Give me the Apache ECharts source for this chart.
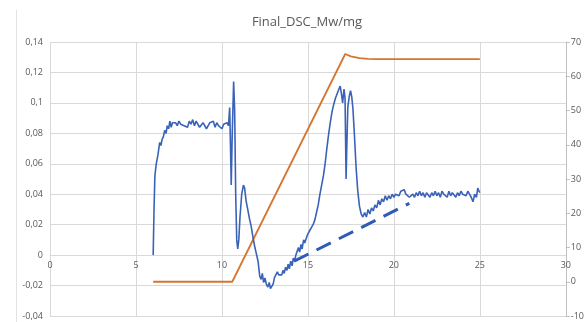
<!DOCTYPE html>
<html><head><meta charset="utf-8">
<script src="https://cdn.jsdelivr.net/npm/echarts@6/dist/echarts.min.js"></script>
<style>html,body{margin:0;padding:0;background:#fff}#c{width:587px;height:322px}</style>
</head><body><div id="c"></div>
<script>
var titleText = "Final_DSC_Mw/mg";
var xTicks = [0, 5, 10, 15, 20, 25, 30];
var leftTicks = [-0.04, -0.02, 0, 0.02, 0.04, 0.06, 0.08, 0.1, 0.12, 0.14];
var rightTicks = [-10, 0, 10, 20, 30, 40, 50, 60, 70];

// DSC signal (left axis): time, value
var dscTime = [6.00,6.05,6.10,6.18,6.28,6.38,6.45,6.52,6.60,6.67,6.75,6.82,6.90,6.97,7.05,7.12,7.20,7.30,7.40,7.50,7.60,7.70,7.80,7.90,8.00,8.10,8.20,8.30,8.40,8.50,8.60,8.70,8.80,8.90,9.00,9.10,9.20,9.30,9.40,9.50,9.60,9.70,9.80,9.90,10.00,10.10,10.20,10.30,10.38,10.45,10.50,10.54,10.60,10.68,10.74,10.80,10.86,10.92,10.98,11.05,11.15,11.25,11.32,11.40,11.50,11.60,11.70,11.80,11.90,12.00,12.10,12.20,12.28,12.35,12.42,12.50,12.58,12.67,12.75,12.82,12.90,12.98,13.05,13.15,13.22,13.30,13.40,13.48,13.55,13.62,13.70,13.78,13.85,13.92,14.00,14.08,14.15,14.22,14.30,14.40,14.45,14.52,14.60,14.66,14.75,14.82,14.90,15.00,15.10,15.20,15.30,15.40,15.50,15.60,15.70,15.80,15.90,16.00,16.10,16.20,16.30,16.40,16.50,16.60,16.70,16.80,16.88,16.95,17.02,17.10,17.16,17.22,17.26,17.32,17.40,17.48,17.55,17.62,17.70,17.80,17.90,18.00,18.10,18.20,18.30,18.40,18.50,18.60,18.70,18.80,18.90,19.00,19.10,19.20,19.30,19.40,19.50,19.60,19.70,19.80,19.90,20.00,20.10,20.20,20.30,20.40,20.50,20.60,20.70,20.80,20.90,21.00,21.10,21.20,21.30,21.40,21.50,21.60,21.70,21.80,21.90,22.00,22.10,22.20,22.30,22.40,22.50,22.60,22.70,22.80,22.90,23.00,23.10,23.20,23.30,23.40,23.50,23.60,23.70,23.80,23.90,24.00,24.10,24.20,24.30,24.40,24.50,24.60,24.70,24.80,24.88,24.95,25.00];
var dscValue = [0.000,0.030,0.052,0.060,0.066,0.074,0.072,0.076,0.078,0.082,0.080,0.085,0.083,0.088,0.084,0.087,0.086,0.087,0.085,0.088,0.086,0.087,0.085,0.086,0.084,0.088,0.086,0.089,0.085,0.088,0.087,0.084,0.083,0.087,0.086,0.083,0.085,0.087,0.086,0.088,0.084,0.087,0.085,0.086,0.083,0.086,0.085,0.087,0.085,0.097,0.070,0.046,0.080,0.114,0.095,0.040,0.010,0.004,0.010,0.025,0.040,0.046,0.044,0.036,0.030,0.024,0.019,0.012,0.006,0.001,-0.004,-0.014,-0.016,-0.012,-0.018,-0.015,-0.019,-0.021,-0.018,-0.022,-0.022,-0.019,-0.015,-0.014,-0.011,-0.013,-0.012,-0.013,-0.010,-0.012,-0.008,-0.010,-0.006,-0.009,-0.004,-0.007,-0.002,-0.004,0.000,0.001,0.005,0.002,0.007,0.004,0.010,0.008,0.011,0.014,0.016,0.018,0.020,0.023,0.028,0.033,0.040,0.046,0.052,0.060,0.070,0.079,0.087,0.094,0.099,0.103,0.106,0.109,0.111,0.106,0.100,0.109,0.103,0.050,0.070,0.097,0.104,0.108,0.104,0.096,0.080,0.058,0.042,0.032,0.027,0.025,0.028,0.025,0.030,0.027,0.031,0.029,0.033,0.031,0.036,0.033,0.037,0.035,0.039,0.036,0.039,0.037,0.040,0.038,0.040,0.041,0.039,0.042,0.041,0.043,0.040,0.041,0.038,0.037,0.040,0.038,0.041,0.039,0.042,0.039,0.041,0.038,0.041,0.040,0.038,0.041,0.039,0.042,0.039,0.041,0.038,0.042,0.040,0.041,0.038,0.042,0.039,0.041,0.040,0.038,0.041,0.039,0.042,0.040,0.041,0.039,0.042,0.040,0.038,0.035,0.040,0.038,0.044,0.042,0.041];

// Temperature (right axis)
var tempTime = [6.0, 10.6, 17.17, 17.5, 18.0, 18.5, 19.0, 25.0];
var tempValue = [0, 0, 66.5, 65.8, 65.3, 65.1, 65.0, 65.0];

// Baseline (dashed, left axis)
var baseTime = [14.2, 20.9];
var baseValue = [-0.004, 0.034];

function zip(a, b) { return a.map(function (v, i) { return [v, b[i]]; }); }
function comma(v) { return String(Number(v.toFixed(2))).replace('.', ','); }

var W = 587, H = 322;
var gridTop = 42, gridBottom = 6;
var yMin = leftTicks[0], yMax = leftTicks[leftTicks.length - 1];
var plotH = H - gridTop - gridBottom;
// place the horizontal axis where the left axis crosses zero (as in the original)
var zeroOffset = -plotH * (0 - yMin) / (yMax - yMin);

var chart = echarts.init(document.getElementById('c'), null, {renderer: 'canvas'});
var font = '"Open Sans", "Noto Sans", sans-serif';
chart.setOption({
  animation: false,
  textStyle: {fontFamily: font},
  graphic: [
    {type: 'text', x: 307, y: 22, style: {text: titleText, align: 'center', verticalAlign: 'middle', fontSize: 13, fill: '#595959', fontFamily: font}},
    {type: 'line', shape: {x1: 16.5, y1: 10, x2: 16.5, y2: 322}, style: {stroke: '#e3e3e3', lineWidth: 1}}
  ],
  grid: {left: 50, right: 18, top: gridTop, bottom: gridBottom, containLabel: false},
  xAxis: {
    type: 'value', min: xTicks[0], max: xTicks[xTicks.length - 1], interval: 5,
    position: 'bottom', offset: zeroOffset,
    axisLine: {onZero: false, lineStyle: {color: '#d9d9d9', width: 1}},
    axisTick: {show: false},
    axisLabel: {color: '#595959', fontSize: 9, margin: 6, formatter: function (v) { return String(v); }},
    splitLine: {show: true, lineStyle: {color: '#d9d9d9', width: 1}}
  },
  yAxis: [
    {
      type: 'value', min: yMin, max: yMax, interval: 0.02,
      axisLine: {show: false, onZero: false}, axisTick: {show: false},
      axisLabel: {color: '#595959', fontSize: 9, margin: 7, formatter: comma},
      splitLine: {show: true, lineStyle: {color: '#d9d9d9', width: 1}}
    },
    {
      type: 'value', position: 'right', min: rightTicks[0], max: rightTicks[rightTicks.length - 1], interval: 10,
      axisLine: {show: true, onZero: false, lineStyle: {color: '#bfbfbf', width: 1}},
      axisTick: {show: true, length: 4, lineStyle: {color: '#bfbfbf'}},
      axisLabel: {color: '#595959', fontSize: 9, margin: 5},
      splitLine: {show: false}
    }
  ],
  series: [
    {type: 'line', name: 'Temp', yAxisIndex: 1, data: zip(tempTime, tempValue), showSymbol: false, lineStyle: {color: '#D5752F', width: 1.8}},
    {type: 'line', name: 'DSC', yAxisIndex: 0, data: zip(dscTime, dscValue), showSymbol: false, lineStyle: {color: '#3A63B8', width: 1.6}},
    {type: 'line', name: 'Baseline', yAxisIndex: 0, data: zip(baseTime, baseValue), showSymbol: false, lineStyle: {color: '#2F5BB5', width: 3, type: [16, 9]}}
  ]
});
</script></body></html>
